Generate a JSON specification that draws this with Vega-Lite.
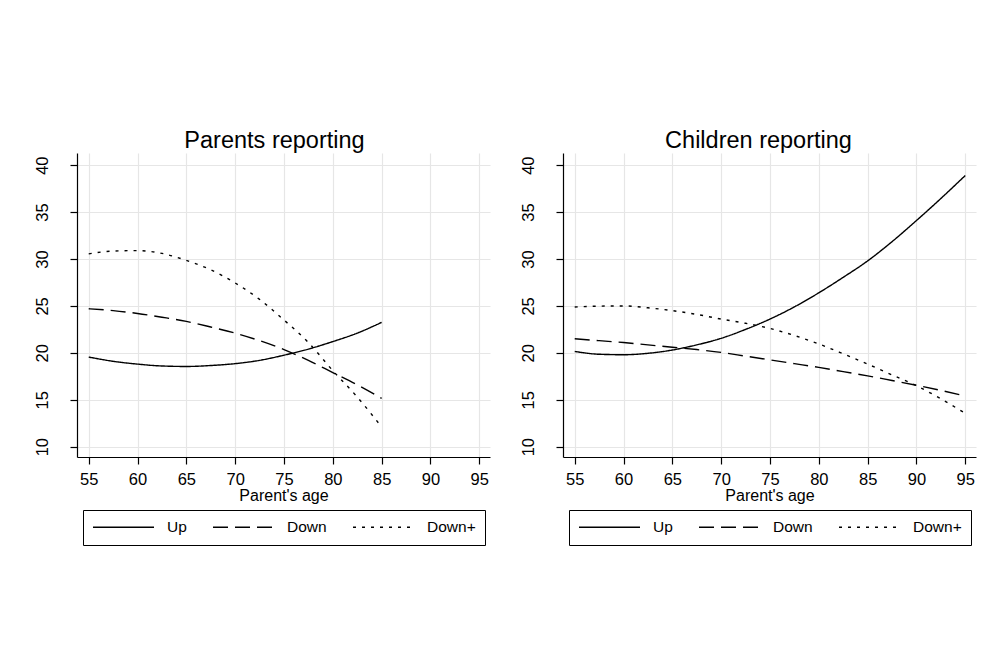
{
  "$schema": "https://vega.github.io/schema/vega-lite/v6.json",
  "background": "white",
  "padding": {"left": 33, "top": 128, "right": 5, "bottom": 5},
  "spacing": 29,
  "config": {
    "view": {"stroke": null},
    "font": "Liberation Sans",
    "title": {"font": "Liberation Sans", "fontSize": 23.5, "fontWeight": "normal", "color": "black", "anchor": "middle", "frame": "group", "offset": 1},
    "axis": {"labelFont": "Liberation Sans", "titleFont": "Liberation Sans", "labelColor": "black", "titleColor": "black", "domainColor": "black", "tickColor": "black", "gridColor": "#e6e6e6", "gridWidth": 1.2, "tickSize": 7, "domainWidth": 1.2, "tickWidth": 1.2, "titleFontWeight": "normal"},
    "legend": {"strokeColor": "black", "fillColor": "white", "layout": {"bottom": {"anchor": "middle"}}}
  },
  "data": {"values": [
    {"panel": "P", "series": "Up", "age": 55, "value": 19.55},
    {"panel": "P", "series": "Up", "age": 57.5, "value": 19.1},
    {"panel": "P", "series": "Up", "age": 60, "value": 18.8},
    {"panel": "P", "series": "Up", "age": 62.5, "value": 18.6},
    {"panel": "P", "series": "Up", "age": 65, "value": 18.55},
    {"panel": "P", "series": "Up", "age": 67.5, "value": 18.65},
    {"panel": "P", "series": "Up", "age": 70, "value": 18.85},
    {"panel": "P", "series": "Up", "age": 72.5, "value": 19.2},
    {"panel": "P", "series": "Up", "age": 75, "value": 19.75},
    {"panel": "P", "series": "Up", "age": 77.5, "value": 20.4},
    {"panel": "P", "series": "Up", "age": 80, "value": 21.2},
    {"panel": "P", "series": "Up", "age": 82.5, "value": 22.1},
    {"panel": "P", "series": "Up", "age": 85, "value": 23.25},
    {"panel": "P", "series": "Down", "age": 55, "value": 24.7},
    {"panel": "P", "series": "Down", "age": 57.5, "value": 24.5},
    {"panel": "P", "series": "Down", "age": 60, "value": 24.2},
    {"panel": "P", "series": "Down", "age": 62.5, "value": 23.8},
    {"panel": "P", "series": "Down", "age": 65, "value": 23.35},
    {"panel": "P", "series": "Down", "age": 67.5, "value": 22.75},
    {"panel": "P", "series": "Down", "age": 70, "value": 22.1},
    {"panel": "P", "series": "Down", "age": 72.5, "value": 21.3},
    {"panel": "P", "series": "Down", "age": 75, "value": 20.35},
    {"panel": "P", "series": "Down", "age": 77.5, "value": 19.2},
    {"panel": "P", "series": "Down", "age": 80, "value": 17.9},
    {"panel": "P", "series": "Down", "age": 82.5, "value": 16.6},
    {"panel": "P", "series": "Down", "age": 85, "value": 15.15},
    {"panel": "P", "series": "Down+", "age": 55, "value": 30.55},
    {"panel": "P", "series": "Down+", "age": 57.5, "value": 30.85},
    {"panel": "P", "series": "Down+", "age": 60, "value": 30.9},
    {"panel": "P", "series": "Down+", "age": 62.5, "value": 30.6},
    {"panel": "P", "series": "Down+", "age": 65, "value": 29.85},
    {"panel": "P", "series": "Down+", "age": 67.5, "value": 28.85},
    {"panel": "P", "series": "Down+", "age": 70, "value": 27.45},
    {"panel": "P", "series": "Down+", "age": 72.5, "value": 25.7},
    {"panel": "P", "series": "Down+", "age": 75, "value": 23.5},
    {"panel": "P", "series": "Down+", "age": 77.5, "value": 21.1},
    {"panel": "P", "series": "Down+", "age": 80, "value": 18.1},
    {"panel": "P", "series": "Down+", "age": 82.5, "value": 15.3},
    {"panel": "P", "series": "Down+", "age": 85, "value": 12.1},
    {"panel": "C", "series": "Up", "age": 55, "value": 20.15},
    {"panel": "C", "series": "Up", "age": 57.5, "value": 19.85},
    {"panel": "C", "series": "Up", "age": 60, "value": 19.8},
    {"panel": "C", "series": "Up", "age": 62.5, "value": 19.95},
    {"panel": "C", "series": "Up", "age": 65, "value": 20.3},
    {"panel": "C", "series": "Up", "age": 67.5, "value": 20.85},
    {"panel": "C", "series": "Up", "age": 70, "value": 21.55},
    {"panel": "C", "series": "Up", "age": 72.5, "value": 22.5},
    {"panel": "C", "series": "Up", "age": 75, "value": 23.6},
    {"panel": "C", "series": "Up", "age": 77.5, "value": 24.9},
    {"panel": "C", "series": "Up", "age": 80, "value": 26.4},
    {"panel": "C", "series": "Up", "age": 82.5, "value": 28.05},
    {"panel": "C", "series": "Up", "age": 85, "value": 29.8},
    {"panel": "C", "series": "Up", "age": 87.5, "value": 31.85},
    {"panel": "C", "series": "Up", "age": 90, "value": 34.1},
    {"panel": "C", "series": "Up", "age": 92.5, "value": 36.45},
    {"panel": "C", "series": "Up", "age": 95, "value": 38.9},
    {"panel": "C", "series": "Down", "age": 55, "value": 21.5},
    {"panel": "C", "series": "Down", "age": 57.5, "value": 21.3},
    {"panel": "C", "series": "Down", "age": 60, "value": 21.1},
    {"panel": "C", "series": "Down", "age": 62.5, "value": 20.85},
    {"panel": "C", "series": "Down", "age": 65, "value": 20.6},
    {"panel": "C", "series": "Down", "age": 67.5, "value": 20.35},
    {"panel": "C", "series": "Down", "age": 70, "value": 20.05},
    {"panel": "C", "series": "Down", "age": 72.5, "value": 19.65},
    {"panel": "C", "series": "Down", "age": 75, "value": 19.25},
    {"panel": "C", "series": "Down", "age": 77.5, "value": 18.85},
    {"panel": "C", "series": "Down", "age": 80, "value": 18.45},
    {"panel": "C", "series": "Down", "age": 82.5, "value": 18.0},
    {"panel": "C", "series": "Down", "age": 85, "value": 17.55},
    {"panel": "C", "series": "Down", "age": 87.5, "value": 17.05},
    {"panel": "C", "series": "Down", "age": 90, "value": 16.55},
    {"panel": "C", "series": "Down", "age": 92.5, "value": 16.0},
    {"panel": "C", "series": "Down", "age": 95, "value": 15.4},
    {"panel": "C", "series": "Down+", "age": 55, "value": 24.88},
    {"panel": "C", "series": "Down+", "age": 57.5, "value": 24.98},
    {"panel": "C", "series": "Down+", "age": 60, "value": 25.0},
    {"panel": "C", "series": "Down+", "age": 62.5, "value": 24.8},
    {"panel": "C", "series": "Down+", "age": 65, "value": 24.5},
    {"panel": "C", "series": "Down+", "age": 67.5, "value": 24.1},
    {"panel": "C", "series": "Down+", "age": 70, "value": 23.6},
    {"panel": "C", "series": "Down+", "age": 72.5, "value": 23.15},
    {"panel": "C", "series": "Down+", "age": 75, "value": 22.6},
    {"panel": "C", "series": "Down+", "age": 77.5, "value": 21.85},
    {"panel": "C", "series": "Down+", "age": 80, "value": 20.95},
    {"panel": "C", "series": "Down+", "age": 82.5, "value": 19.9},
    {"panel": "C", "series": "Down+", "age": 85, "value": 18.8},
    {"panel": "C", "series": "Down+", "age": 87.5, "value": 17.65},
    {"panel": "C", "series": "Down+", "age": 90, "value": 16.5},
    {"panel": "C", "series": "Down+", "age": 92.5, "value": 15.1},
    {"panel": "C", "series": "Down+", "age": 95, "value": 13.55}
  ]},
  "resolve": {"legend": {"strokeDash": "independent"}, "scale": {"strokeDash": "independent"}},
  "hconcat": [
    {
      "title": {"text": "Parents reporting", "dx": -9},
      "width": 413, "height": 304,
      "transform": [{"filter": "datum.panel === 'P'"}],
      "mark": {"type": "line", "color": "black", "strokeWidth": 1.4, "interpolate": "monotone"},
      "encoding": {
        "x": {"field": "age", "type": "quantitative", "scale": {"domain": [53.8, 96.1], "nice": false, "zero": false},
              "axis": {"values": [55, 60, 65, 70, 75, 80, 85, 90, 95], "title": "Parent's age", "labelFontSize": 16.5, "titleFontSize": 16, "labelPadding": 7, "titlePadding": 0}},
        "y": {"field": "value", "type": "quantitative", "scale": {"domain": [8.9, 41.3], "nice": false, "zero": false},
              "axis": {"values": [10, 15, 20, 25, 30, 35, 40], "title": null, "labelFontSize": 16.5, "labelAngle": 270, "labelAlign": "center", "labelBaseline": "alphabetic", "labelPadding": 23}},
        "strokeDash": {"field": "series", "type": "nominal",
              "scale": {"domain": ["Up", "Down", "Down+"], "range": [[1, 0], [15, 7], [3, 6]]},
              "legend": {"orient": "bottom", "direction": "horizontal", "title": null, "symbolType": "stroke", "symbolSize": 3721, "symbolStrokeWidth": 1.4, "symbolStrokeColor": "black", "clipHeight": 16, "labelFontSize": 15.5, "labelFont": "Liberation Sans", "labelColor": "black", "labelOffset": 12, "columnPadding": 25, "padding": 9, "offset": 6, "strokeColor": "black"}}
      }
    },
    {
      "title": {"text": "Children reporting", "dx": -11},
      "width": 413, "height": 304,
      "transform": [{"filter": "datum.panel === 'C'"}],
      "mark": {"type": "line", "color": "black", "strokeWidth": 1.4, "interpolate": "monotone"},
      "encoding": {
        "x": {"field": "age", "type": "quantitative", "scale": {"domain": [53.8, 96.1], "nice": false, "zero": false},
              "axis": {"values": [55, 60, 65, 70, 75, 80, 85, 90, 95], "title": "Parent's age", "labelFontSize": 16.5, "titleFontSize": 16, "labelPadding": 7, "titlePadding": 0}},
        "y": {"field": "value", "type": "quantitative", "scale": {"domain": [8.9, 41.3], "nice": false, "zero": false},
              "axis": {"values": [10, 15, 20, 25, 30, 35, 40], "title": null, "labelFontSize": 16.5, "labelAngle": 270, "labelAlign": "center", "labelBaseline": "alphabetic", "labelPadding": 23}},
        "strokeDash": {"field": "series", "type": "nominal",
              "scale": {"domain": ["Up", "Down", "Down+"], "range": [[1, 0], [15, 7], [3, 6]]},
              "legend": {"orient": "bottom", "direction": "horizontal", "title": null, "symbolType": "stroke", "symbolSize": 3721, "symbolStrokeWidth": 1.4, "symbolStrokeColor": "black", "clipHeight": 16, "labelFontSize": 15.5, "labelFont": "Liberation Sans", "labelColor": "black", "labelOffset": 12, "columnPadding": 25, "padding": 9, "offset": 6, "strokeColor": "black"}}
      }
    }
  ]
}
